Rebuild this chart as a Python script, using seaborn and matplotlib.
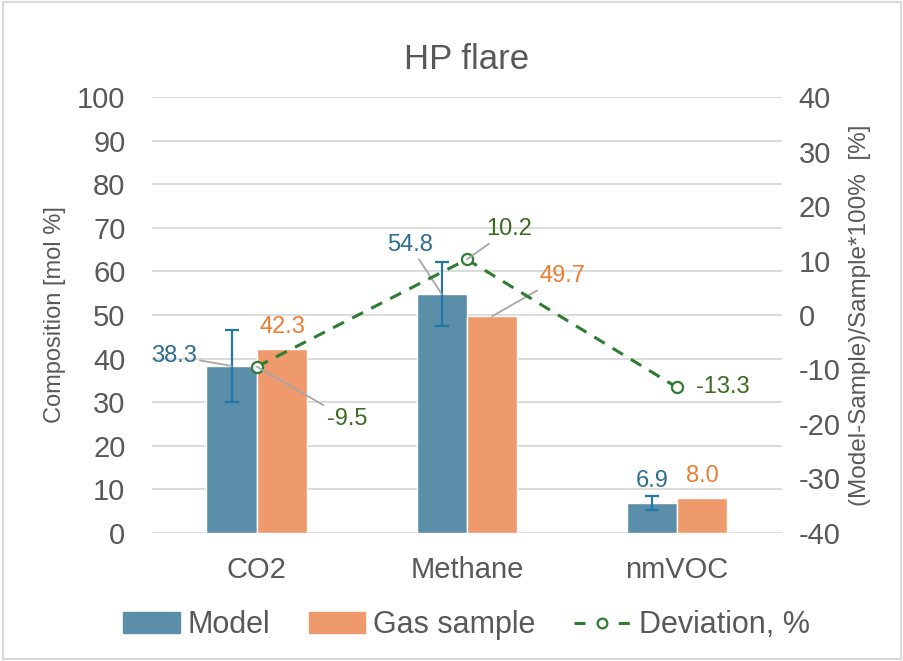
import numpy as np
import pandas as pd
import matplotlib
matplotlib.use("Agg")
import matplotlib.pyplot as plt
import seaborn as sns
from matplotlib.patches import Patch
from matplotlib.lines import Line2D

# data
categories = ["CO2", "Methane", "nmVOC"]
model = [38.3, 54.8, 6.9]
gas_sample = [42.3, 49.7, 8.0]
model_err = [8.3, 7.4, 1.6]
deviation = [-9.5, 10.2, -13.3]

c_model = "#5b8ea8"
c_gas = "#ef9a6d"
c_model_txt = "#2e6d8f"
c_gas_txt = "#ed7d31"
c_dev = "#2e7d32"
c_dev_txt = "#3a6b22"
c_lead = "#a6a6a6"
c_text = "#595959"

sns.set_theme(style="white")
plt.rcParams["font.family"] = ["Liberation Sans", "DejaVu Sans"]
plt.rcParams["axes.unicode_minus"] = False

df = pd.DataFrame({
    "category": categories * 2,
    "value": model + gas_sample,
    "series": ["Model"] * 3 + ["Gas sample"] * 3,
})

fig = plt.figure(figsize=(9.04, 6.61), dpi=100)
ax = fig.add_axes([0.168, 0.194, 0.697, 0.659])

sns.barplot(data=df, x="category", y="value", hue="series",
            palette=[c_model, c_gas], width=0.48, errorbar=None,
            saturation=1, ax=ax, legend=False)

model_bars = ax.containers[0]
gas_bars = ax.containers[1]
mx = [b.get_x() + b.get_width() / 2 for b in model_bars]
gx = [b.get_x() + b.get_width() / 2 for b in gas_bars]

ax.errorbar(mx, model, yerr=model_err, fmt="none", ecolor="#2377a8",
            elinewidth=1.6, capsize=5, capthick=1.6, zorder=3)

ax.set_ylim(0, 100)
ax.set_xlim(-0.5, 2.5)
ax.set_yticks(np.arange(0, 101, 10))
ax.yaxis.grid(True, color="#d9d9d9", linewidth=1.3)
ax.set_axisbelow(True)
for s in ax.spines.values():
    s.set_visible(False)
ax.tick_params(axis="both", length=0, labelsize=21, colors=c_text)
ax.tick_params(axis="y", pad=19)
ax.tick_params(axis="x", pad=17)
ax.set_xlabel("")
ax.set_ylabel("Composition [mol %]", fontsize=17, color=c_text, labelpad=8)
ax.set_title("HP flare", fontsize=25, color=c_text, pad=20)

ax2 = ax.twinx()
xpos = np.arange(len(categories))
ax2.plot(xpos, deviation, color=c_dev, linestyle=(0, (4, 3)), linewidth=2.2,
         marker="o", markersize=8, markerfacecolor="white",
         markeredgecolor=c_dev, markeredgewidth=1.6, zorder=4)
ax2.set_ylim(-40, 40)
ax2.set_yticks(np.arange(-40, 41, 10))
for s in ax2.spines.values():
    s.set_visible(False)
ax2.tick_params(axis="y", length=0, labelsize=21, colors=c_text, pad=12)
ax2.set_ylabel("(Model-Sample)/Sample*100%  [%]", fontsize=17.5,
               color=c_text, labelpad=6)

lead = dict(arrowstyle="-", color=c_lead, lw=1.3, shrinkA=0, shrinkB=0)
fs = 17

def label(axis, x, y, txt, dx, dy, color, leader=False, ha="center"):
    axis.annotate(txt, xy=(x, y), xytext=(dx, dy), textcoords="offset pixels",
                  ha=ha, va="center", fontsize=fs, color=color,
                  arrowprops=lead if leader else None, zorder=5)

# model labels
label(ax, mx[0], model[0], f"{model[0]:.1f}", -58, 10, c_model_txt, True)
label(ax, mx[1], model[1], f"{model[1]:.1f}", -32, 49, c_model_txt, True)
label(ax, mx[2], model[2], f"{model[2]:.1f}", 0, 22, c_model_txt)
# gas sample labels
label(ax, gx[0], gas_sample[0], f"{gas_sample[0]:.1f}", 0, 22, c_gas_txt)
label(ax, gx[1], gas_sample[1], f"{gas_sample[1]:.1f}", 70, 40, c_gas_txt, True)
label(ax, gx[2], gas_sample[2], f"{gas_sample[2]:.1f}", 0, 22, c_gas_txt)
# deviation labels
label(ax2, xpos[0], deviation[0], f"{deviation[0]:.1f}", 90, -52, c_dev_txt, True)
label(ax2, xpos[1], deviation[1], f"{deviation[1]:.1f}", 42, 30, c_dev_txt, True)
label(ax2, xpos[2], deviation[2], f"{deviation[2]:.1f}", 46, 0, c_dev_txt)

handles = [
    Patch(facecolor=c_model, edgecolor=c_model),
    Patch(facecolor=c_gas, edgecolor=c_gas),
    Line2D([], [], color=c_dev, linestyle=(0, (3.6, 10.9)), linewidth=2.2,
           marker="o", markersize=7, markerfacecolor="white",
           markeredgecolor=c_dev, markeredgewidth=1.6),
]
leg = fig.legend(handles, ["Model", "Gas sample", "Deviation, %"],
                 loc="center", bbox_to_anchor=(0.516, 0.054), ncol=3,
                 frameon=False, fontsize=22, handlelength=1.85,
                 handleheight=0.65, columnspacing=1.25, handletextpad=0.27)
for t in leg.get_texts():
    t.set_color(c_text)

fig.patches.append(plt.Rectangle((0.003, 0.003), 0.994, 0.994,
                                 transform=fig.transFigure, fill=False,
                                 edgecolor="#d9d9d9", linewidth=1.5))

fig.savefig("out.png", dpi=100)
